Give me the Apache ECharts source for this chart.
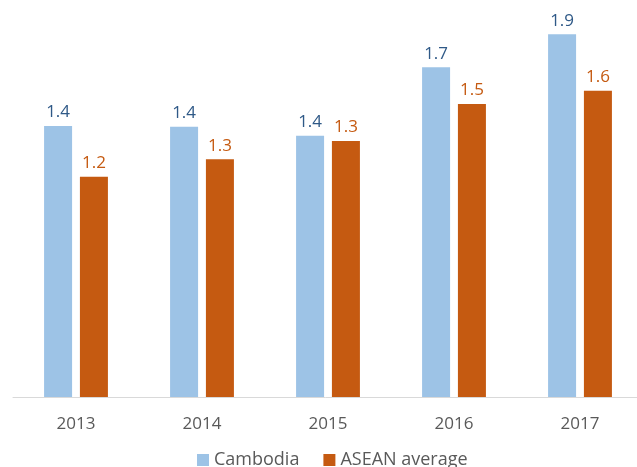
<!DOCTYPE html>
<html><head><meta charset="utf-8">
<script src="https://cdn.jsdelivr.net/npm/echarts@6/dist/echarts.min.js"></script>
<style>html,body{margin:0;padding:0;background:#fff}#c{width:637px;height:467px}</style>
</head><body><div id="c"></div>
<script>
var years = ['2013','2014','2015','2016','2017'];
var cambodia = [1.426, 1.423, 1.375, 1.735, 1.909];
var asean = [1.159, 1.251, 1.347, 1.542, 1.612];
var seriesNames = ['Cambodia','ASEAN average'];

var font = '"Open Sans", "Noto Sans", sans-serif';
var chart = echarts.init(document.getElementById('c'));
chart.setOption({
  animation: false,
  textStyle: {fontFamily: font},
  legend: {
    data: seriesNames, top: 446, left: 192, icon: 'rect',
    itemWidth: 12, itemHeight: 12, itemGap: 24, itemStyle: {borderWidth: 0},
    textStyle: {fontSize: 18, color: '#595959', fontFamily: font}
  },
  grid: {left: 13, width: 630, top: 17, height: 380, outerBoundsMode: 'none', containLabel: false},
  xAxis: {
    type: 'category', data: years,
    axisLine: {lineStyle: {color: '#d9d9d9', width: 1}},
    axisTick: {show: false},
    axisLabel: {fontSize: 17, color: '#595959', margin: 19, fontFamily: font}
  },
  yAxis: {type: 'value', min: 0, max: 2, show: false, splitLine: {show: false}},
  series: [
    {name: seriesNames[0], type: 'bar', data: cambodia, barWidth: 28, barGap: '28%',
     itemStyle: {color: '#9dc3e6'},
     label: {show: true, position: 'top', distance: 5, fontSize: 17, color: '#2f5987', fontFamily: font,
             formatter: function(p){return p.value.toFixed(1);}}},
    {name: seriesNames[1], type: 'bar', data: asean, barWidth: 28,
     itemStyle: {color: '#c55a11'},
     label: {show: true, position: 'top', distance: 5, fontSize: 17, color: '#c55a11', fontFamily: font,
             formatter: function(p){return p.value.toFixed(1);}}}
  ]
});
</script></body></html>
